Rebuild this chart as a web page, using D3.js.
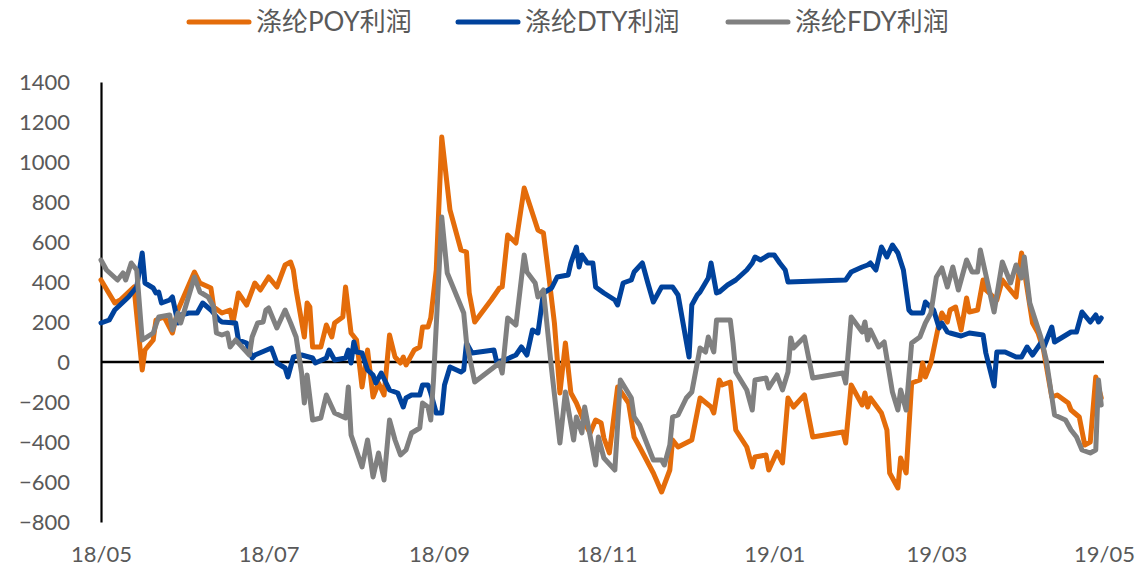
<!DOCTYPE html>
<html>
<head>
<meta charset="utf-8">
<script src="https://cdn.jsdelivr.net/npm/d3@7"></script>
<style>
  body { margin: 0; background: #fff; }
  text { font-family: Lato, "Noto Sans CJK SC", sans-serif; fill: #595959; }
</style>
</head>
<body>
<div id="chart"></div>
<script>
// series names, colours for the legend
var seriesNames = ["涤纶POY利润", "涤纶DTY利润", "涤纶FDY利润"];
var seriesColors = ["#E46C0A", "#00429C", "#808080"];

var xTickLabels = ["18/05", "18/07", "18/09", "18/11", "19/01", "19/03", "19/05"];
var yTicks = [-800, -600, -400, -200, 0, 200, 400, 600, 800, 1000, 1200, 1400];

// POY profit (date, value)
var poyData = [
  ["2018-05-01", 410], ["2018-05-06", 295], ["2018-05-08", 310], ["2018-05-13", 375],
  ["2018-05-16", -40], ["2018-05-17", 60], ["2018-05-20", 110], ["2018-05-21", 210],
  ["2018-05-24", 225], ["2018-05-27", 145], ["2018-05-29", 260], ["2018-06-04", 450],
  ["2018-06-06", 395], ["2018-06-10", 370], ["2018-06-11", 275], ["2018-06-14", 245],
  ["2018-06-17", 260], ["2018-06-18", 195], ["2018-06-20", 345], ["2018-06-23", 285],
  ["2018-06-26", 395], ["2018-06-28", 360], ["2018-07-01", 425], ["2018-07-04", 375],
  ["2018-07-07", 485], ["2018-07-09", 500], ["2018-07-10", 460], ["2018-07-11", 360],
  ["2018-07-14", 125], ["2018-07-15", 295], ["2018-07-16", 275], ["2018-07-17", 75],
  ["2018-07-20", 75], ["2018-07-22", 185], ["2018-07-24", 125], ["2018-07-25", 195],
  ["2018-07-28", 225], ["2018-07-29", 375], ["2018-07-31", 145], ["2018-08-02", 110],
  ["2018-08-04", -125], ["2018-08-06", 60], ["2018-08-08", -175], ["2018-08-10", -105],
  ["2018-08-12", -165], ["2018-08-14", 135], ["2018-08-16", 25], ["2018-08-18", -5],
  ["2018-08-19", 25], ["2018-08-20", -15], ["2018-08-23", 60], ["2018-08-25", 75],
  ["2018-08-26", 175], ["2018-08-28", 175], ["2018-08-29", 220], ["2018-08-31", 460],
  ["2018-09-02", 1125], ["2018-09-05", 760], ["2018-09-09", 560], ["2018-09-11", 550],
  ["2018-09-12", 345], ["2018-09-14", 200], ["2018-09-20", 310], ["2018-09-23", 370],
  ["2018-09-24", 375], ["2018-09-26", 635], ["2018-09-29", 595], ["2018-10-02", 870],
  ["2018-10-07", 660], ["2018-10-09", 645], ["2018-10-11", 425], ["2018-10-13", 195],
  ["2018-10-15", -155], ["2018-10-17", 95], ["2018-10-19", -155], ["2018-10-21", -205],
  ["2018-10-24", -305], ["2018-10-26", -355], ["2018-10-28", -290], ["2018-10-30", -305],
  ["2018-10-31", -380], ["2018-11-02", -455], ["2018-11-05", -125], ["2018-11-09", -205],
  ["2018-11-11", -375], ["2018-11-13", -425], ["2018-11-18", -555], ["2018-11-21", -650],
  ["2018-11-24", -540], ["2018-11-25", -390], ["2018-11-27", -425], ["2018-12-02", -390],
  ["2018-12-05", -180], ["2018-12-09", -225], ["2018-12-10", -255], ["2018-12-12", -90],
  ["2018-12-13", -115], ["2018-12-16", -100], ["2018-12-18", -340], ["2018-12-22", -425],
  ["2018-12-24", -525], ["2018-12-25", -475], ["2018-12-29", -465], ["2018-12-30", -540],
  ["2019-01-02", -450], ["2019-01-04", -505], ["2019-01-06", -180], ["2019-01-08", -225],
  ["2019-01-12", -165], ["2019-01-15", -375], ["2019-01-26", -350], ["2019-01-27", -405],
  ["2019-01-29", -115], ["2019-02-02", -215], ["2019-02-03", -155], ["2019-02-04", -225],
  ["2019-02-05", -180], ["2019-02-09", -255], ["2019-02-11", -340], ["2019-02-12", -555],
  ["2019-02-15", -630], ["2019-02-16", -480], ["2019-02-18", -555], ["2019-02-20", -105],
  ["2019-02-23", -90], ["2019-02-24", -5], ["2019-02-25", -75], ["2019-02-27", -5],
  ["2019-03-02", 195], ["2019-03-03", 245], ["2019-03-05", 200], ["2019-03-06", 260],
  ["2019-03-08", 275], ["2019-03-10", 160], ["2019-03-12", 320], ["2019-03-13", 250],
  ["2019-03-16", 260], ["2019-03-18", 410], ["2019-03-19", 360], ["2019-03-23", 310],
  ["2019-03-25", 410], ["2019-03-27", 375], ["2019-03-30", 325], ["2019-03-31", 445],
  ["2019-04-01", 545], ["2019-04-05", 195], ["2019-04-07", 145], ["2019-04-09", 60],
  ["2019-04-12", -175], ["2019-04-14", -165], ["2019-04-18", -205], ["2019-04-19", -240],
  ["2019-04-22", -275], ["2019-04-24", -415], ["2019-04-26", -400], ["2019-04-28", -75],
  ["2019-04-30", -180]
];

// DTY profit
var dtyData = [
  ["2018-05-01", 195], ["2018-05-04", 210], ["2018-05-06", 260], ["2018-05-11", 325],
  ["2018-05-14", 375], ["2018-05-16", 545], ["2018-05-17", 395], ["2018-05-20", 370],
  ["2018-05-21", 345], ["2018-05-22", 350], ["2018-05-23", 295], ["2018-05-26", 310],
  ["2018-05-27", 325], ["2018-05-29", 195], ["2018-05-30", 235], ["2018-06-02", 245],
  ["2018-06-05", 245], ["2018-06-07", 295], ["2018-06-10", 260], ["2018-06-13", 210],
  ["2018-06-14", 200], ["2018-06-19", 195], ["2018-06-20", 110], ["2018-06-23", 95],
  ["2018-06-25", 20], ["2018-06-26", 35], ["2018-07-02", 70], ["2018-07-04", -5],
  ["2018-07-07", -30], ["2018-07-08", -75], ["2018-07-10", 25], ["2018-07-13", 35],
  ["2018-07-17", 20], ["2018-07-18", -5], ["2018-07-22", 20], ["2018-07-23", 60],
  ["2018-07-25", 10], ["2018-07-29", 20], ["2018-07-30", 60], ["2018-07-31", -5],
  ["2018-08-01", 100], ["2018-08-02", 50], ["2018-08-04", 45], ["2018-08-06", -40],
  ["2018-08-08", -65], ["2018-08-09", -105], ["2018-08-11", -55], ["2018-08-14", -140],
  ["2018-08-17", -155], ["2018-08-19", -225], ["2018-08-20", -180], ["2018-08-22", -165],
  ["2018-08-25", -165], ["2018-08-26", -115], ["2018-08-28", -115], ["2018-08-29", -155],
  ["2018-08-31", -255], ["2018-09-02", -255], ["2018-09-03", -115], ["2018-09-05", -25],
  ["2018-09-09", -50], ["2018-09-10", -40], ["2018-09-11", 95], ["2018-09-13", 45],
  ["2018-09-21", 60], ["2018-09-22", 0], ["2018-09-25", 10], ["2018-09-29", 35],
  ["2018-10-01", 75], ["2018-10-03", 35], ["2018-10-05", 160], ["2018-10-07", 145],
  ["2018-10-09", 345], ["2018-10-12", 370], ["2018-10-14", 425], ["2018-10-18", 435],
  ["2018-10-19", 495], ["2018-10-21", 575], ["2018-10-22", 475], ["2018-10-23", 535],
  ["2018-10-25", 495], ["2018-10-27", 495], ["2018-10-28", 375], ["2018-10-31", 345],
  ["2018-11-04", 310], ["2018-11-05", 285], ["2018-11-07", 395], ["2018-11-10", 410],
  ["2018-11-11", 450], ["2018-11-14", 495], ["2018-11-16", 395], ["2018-11-18", 300],
  ["2018-11-21", 375], ["2018-11-25", 375], ["2018-11-27", 335], ["2018-12-01", 25],
  ["2018-12-02", 285], ["2018-12-04", 335], ["2018-12-05", 350], ["2018-12-08", 420],
  ["2018-12-09", 495], ["2018-12-11", 345], ["2018-12-12", 350], ["2018-12-15", 385],
  ["2018-12-18", 410], ["2018-12-22", 460], ["2018-12-24", 495], ["2018-12-25", 525],
  ["2018-12-27", 510], ["2018-12-30", 535], ["2019-01-01", 535], ["2019-01-03", 495],
  ["2019-01-05", 460], ["2019-01-06", 400], ["2019-01-27", 410], ["2019-01-29", 450],
  ["2019-02-02", 475], ["2019-02-04", 485], ["2019-02-05", 495], ["2019-02-07", 460],
  ["2019-02-09", 575], ["2019-02-11", 525], ["2019-02-13", 585], ["2019-02-15", 545],
  ["2019-02-17", 460], ["2019-02-19", 260], ["2019-02-20", 245], ["2019-02-24", 245],
  ["2019-02-25", 300], ["2019-02-28", 260], ["2019-03-02", 170], ["2019-03-03", 195],
  ["2019-03-05", 150], ["2019-03-06", 145], ["2019-03-10", 130], ["2019-03-13", 145],
  ["2019-03-18", 135], ["2019-03-19", 45], ["2019-03-22", -120], ["2019-03-23", 50],
  ["2019-03-26", 50], ["2019-03-30", 25], ["2019-04-01", 25], ["2019-04-03", 75],
  ["2019-04-05", 35], ["2019-04-08", 95], ["2019-04-09", 70], ["2019-04-12", 175],
  ["2019-04-13", 100], ["2019-04-19", 150], ["2019-04-21", 150], ["2019-04-23", 250],
  ["2019-04-26", 200], ["2019-04-28", 235], ["2019-04-29", 200], ["2019-04-30", 220]
];

// FDY profit
var fdyData = [
  ["2018-05-01", 510], ["2018-05-03", 460], ["2018-05-07", 410], ["2018-05-09", 445],
  ["2018-05-10", 410], ["2018-05-12", 495], ["2018-05-14", 460], ["2018-05-16", 110],
  ["2018-05-20", 145], ["2018-05-22", 225], ["2018-05-26", 235], ["2018-05-27", 160],
  ["2018-05-29", 245], ["2018-05-30", 195], ["2018-06-04", 425], ["2018-06-06", 350],
  ["2018-06-09", 325], ["2018-06-11", 275], ["2018-06-12", 145], ["2018-06-14", 135],
  ["2018-06-16", 145], ["2018-06-17", 75], ["2018-06-19", 110], ["2018-06-24", 35],
  ["2018-06-25", 125], ["2018-06-27", 195], ["2018-06-29", 200], ["2018-06-30", 260],
  ["2018-07-01", 270], ["2018-07-04", 170], ["2018-07-07", 260], ["2018-07-09", 195],
  ["2018-07-11", 125], ["2018-07-13", -55], ["2018-07-14", -205], ["2018-07-15", -65],
  ["2018-07-17", -290], ["2018-07-20", -280], ["2018-07-22", -165], ["2018-07-25", -255],
  ["2018-07-29", -280], ["2018-07-30", -125], ["2018-07-31", -365], ["2018-08-04", -525],
  ["2018-08-06", -390], ["2018-08-08", -575], ["2018-08-10", -455], ["2018-08-12", -590],
  ["2018-08-14", -290], ["2018-08-16", -390], ["2018-08-18", -465], ["2018-08-20", -440],
  ["2018-08-22", -355], ["2018-08-25", -330], ["2018-08-26", -205], ["2018-08-28", -225],
  ["2018-08-29", -290], ["2018-08-30", -90], ["2018-09-02", 725], ["2018-09-04", 445],
  ["2018-09-10", 245], ["2018-09-11", 100], ["2018-09-14", -100], ["2018-09-23", -5],
  ["2018-09-24", -55], ["2018-09-26", 220], ["2018-09-29", 185], ["2018-10-02", 535],
  ["2018-10-03", 450], ["2018-10-06", 395], ["2018-10-07", 325], ["2018-10-09", 360],
  ["2018-10-12", -40], ["2018-10-15", -405], ["2018-10-17", -150], ["2018-10-20", -390],
  ["2018-10-21", -275], ["2018-10-23", -355], ["2018-10-24", -225], ["2018-10-28", -515],
  ["2018-10-29", -375], ["2018-10-31", -480], ["2018-11-04", -540], ["2018-11-06", -90],
  ["2018-11-10", -180], ["2018-11-11", -275], ["2018-11-13", -315], ["2018-11-18", -490],
  ["2018-11-21", -490], ["2018-11-22", -515], ["2018-11-24", -415], ["2018-11-25", -275],
  ["2018-11-27", -265], ["2018-11-30", -180], ["2018-12-02", -150], ["2018-12-05", 70],
  ["2018-12-07", 50], ["2018-12-08", 125], ["2018-12-10", 50], ["2018-12-11", 210],
  ["2018-12-16", 210], ["2018-12-17", 95], ["2018-12-18", -50], ["2018-12-22", -140],
  ["2018-12-24", -240], ["2018-12-25", -90], ["2018-12-29", -80], ["2018-12-30", -130],
  ["2019-01-02", -65], ["2019-01-04", -140], ["2019-01-06", -50], ["2019-01-07", 120],
  ["2019-01-08", 70], ["2019-01-12", 125], ["2019-01-15", -80], ["2019-01-26", -55],
  ["2019-01-27", -105], ["2019-01-29", 225], ["2019-02-02", 150], ["2019-02-03", 200],
  ["2019-02-04", 110], ["2019-02-05", 160], ["2019-02-08", 75], ["2019-02-10", 100],
  ["2019-02-13", -150], ["2019-02-15", -240], ["2019-02-16", -140], ["2019-02-18", -240],
  ["2019-02-20", 95], ["2019-02-23", 125], ["2019-02-25", 195], ["2019-02-27", 245],
  ["2019-03-01", 425], ["2019-03-03", 470], ["2019-03-05", 375], ["2019-03-07", 475],
  ["2019-03-09", 360], ["2019-03-12", 510], ["2019-03-14", 450], ["2019-03-16", 450],
  ["2019-03-17", 560], ["2019-03-22", 250], ["2019-03-25", 500], ["2019-03-28", 395],
  ["2019-03-30", 485], ["2019-04-01", 420], ["2019-04-02", 525], ["2019-04-04", 295],
  ["2019-04-08", 125], ["2019-04-10", 10], ["2019-04-13", -265], ["2019-04-17", -290],
  ["2019-04-19", -340], ["2019-04-21", -375], ["2019-04-23", -440], ["2019-04-26", -455],
  ["2019-04-28", -440], ["2019-04-29", -90], ["2019-04-30", -215]
];

var width = 1142;
var height = 572;
var margin = {top: 82, right: 38, bottom: 50, left: 101};

var parseDate = d3.timeParse("%Y-%m-%d");

function ToPoints(rows) {
    return rows.map(function (r) {
        return {date: parseDate(r[0]), value: r[1]};
    });
}

var series = [ToPoints(poyData), ToPoints(dtyData), ToPoints(fdyData)];

var svg = d3.select("#chart")
    .append("svg")
    .attr("width", width)
    .attr("height", height);

var xScale = d3.scaleTime()
    .domain([parseDate("2018-05-01"), parseDate("2019-05-01")])
    .range([margin.left, width - margin.right]);

var yScale = d3.scaleLinear()
    .domain([-800, 1400])
    .range([height - margin.bottom, margin.top]);

var xTickDates = xTickLabels.map(function (s) {
    return parseDate("20" + s.slice(0, 2) + "-" + s.slice(3) + "-01");
});

// x labels along the bottom
var xAxis = d3.axisBottom(xScale)
    .tickValues(xTickDates)
    .tickSize(0)
    .tickPadding(24)
    .tickFormat(function (d, i) { return xTickLabels[i]; });

svg.append("g")
    .attr("transform", "translate(0," + (height - margin.bottom) + ")")
    .call(xAxis)
    .call(function (g) { g.select(".domain").remove(); })
    .selectAll("text")
        .style("font-size", "22px")
        .style("font-family", "Lato, sans-serif")
        .attr("fill", "#595959");

var yAxis = d3.axisLeft(yScale)
    .tickValues(yTicks)
    .tickSize(0)
    .tickPadding(31)
    .tickFormat(d3.format("d"));

var yG = svg.append("g")
    .attr("transform", "translate(" + margin.left + ",0)")
    .call(yAxis);

yG.select(".domain")
    .attr("stroke", "#000")
    .attr("stroke-width", 2.2);

yG.selectAll("text")
    .style("font-size", "22px")
    .style("font-family", "Lato, sans-serif")
    .attr("fill", "#595959");

// zero line
svg.append("line")
    .attr("x1", xScale.range()[0])
    .attr("x2", xScale.range()[1])
    .attr("y1", yScale(0))
    .attr("y2", yScale(0))
    .attr("stroke", "#000")
    .attr("stroke-width", 2.4);

var line = d3.line()
    .x(function (d) { return xScale(d.date); })
    .y(function (d) { return yScale(d.value); });

svg.selectAll("path.series")
    .data(series)
    .enter()
    .append("path")
        .attr("class", "series")
        .attr("d", line)
        .attr("fill", "none")
        .attr("stroke", function (d, i) { return seriesColors[i]; })
        .attr("stroke-width", 5)
        .attr("stroke-linejoin", "round")
        .attr("stroke-linecap", "round");

// legend at the top
var legendX = [189, 458, 728];
var legend = svg.selectAll("g.legend")
    .data(seriesNames)
    .enter()
    .append("g")
        .attr("class", "legend")
        .attr("transform", function (d, i) { return "translate(" + legendX[i] + ",22)"; });

legend.append("line")
    .attr("x1", 0)
    .attr("x2", 60)
    .attr("stroke", function (d, i) { return seriesColors[i]; })
    .attr("stroke-width", 5)
    .attr("stroke-linecap", "round");

legend.append("text")
    .attr("x", 67)
    .attr("dy", "0.36em")
    .style("font-size", "26px")
    .text(function (d) { return d; });
</script>
</body>
</html>
